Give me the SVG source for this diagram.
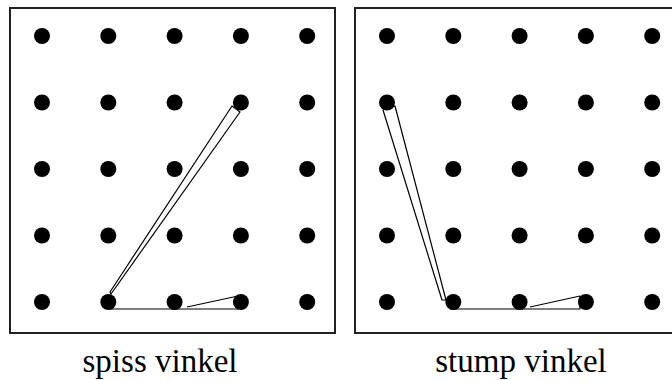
<svg xmlns="http://www.w3.org/2000/svg" width="672" height="381" viewBox="0 0 672 381">
<style>
.frame{fill:none;stroke:#222;stroke-width:2}
.dot{fill:#000}
.band{fill:none;stroke:#000;stroke-width:1.2;stroke-linejoin:round}
.lbl{font-family:'Liberation Serif','Times New Roman',serif;font-size:33px;fill:#000;text-anchor:middle}
</style>
<defs>
<g id="grid">
<circle class="dot" cx="0" cy="0" r="8"/><circle class="dot" cx="66.3" cy="0" r="8"/><circle class="dot" cx="132.6" cy="0" r="8"/><circle class="dot" cx="198.9" cy="0" r="8"/><circle class="dot" cx="265.2" cy="0" r="8"/>
<circle class="dot" cx="0" cy="66.5" r="8"/><circle class="dot" cx="66.3" cy="66.5" r="8"/><circle class="dot" cx="132.6" cy="66.5" r="8"/><circle class="dot" cx="198.9" cy="66.5" r="8"/><circle class="dot" cx="265.2" cy="66.5" r="8"/>
<circle class="dot" cx="0" cy="133" r="8"/><circle class="dot" cx="66.3" cy="133" r="8"/><circle class="dot" cx="132.6" cy="133" r="8"/><circle class="dot" cx="198.9" cy="133" r="8"/><circle class="dot" cx="265.2" cy="133" r="8"/>
<circle class="dot" cx="0" cy="199.5" r="8"/><circle class="dot" cx="66.3" cy="199.5" r="8"/><circle class="dot" cx="132.6" cy="199.5" r="8"/><circle class="dot" cx="198.9" cy="199.5" r="8"/><circle class="dot" cx="265.2" cy="199.5" r="8"/>
<circle class="dot" cx="0" cy="266" r="8"/><circle class="dot" cx="66.3" cy="266" r="8"/><circle class="dot" cx="132.6" cy="266" r="8"/><circle class="dot" cx="198.9" cy="266" r="8"/><circle class="dot" cx="265.2" cy="266" r="8"/>
</g>
</defs>
<g id="panel-left">
<rect class="frame" x="10" y="8" width="325" height="325"/>
<use href="#grid" x="42" y="36"/>
<path class="band" d="M110,292 L232,106 L240,112 L111,294 Z"/>
<path class="band" d="M110,309 L238,309 L238,296 L187,307"/>
<text class="lbl" x="160" y="372" font-family="Liberation Serif, serif">spiss vinkel</text>
</g>
<g id="panel-right">
<rect class="frame" x="355" y="8" width="330" height="325"/>
<use href="#grid" x="387" y="36"/>
<path class="band" d="M383,110 L395,106 L446,300 L442,300 Z"/>
<path class="band" d="M450,309 L580,309 L580,296 L530,307"/>
<text class="lbl" x="521" y="372" font-family="Liberation Serif, serif">stump vinkel</text>
</g>
</svg>
